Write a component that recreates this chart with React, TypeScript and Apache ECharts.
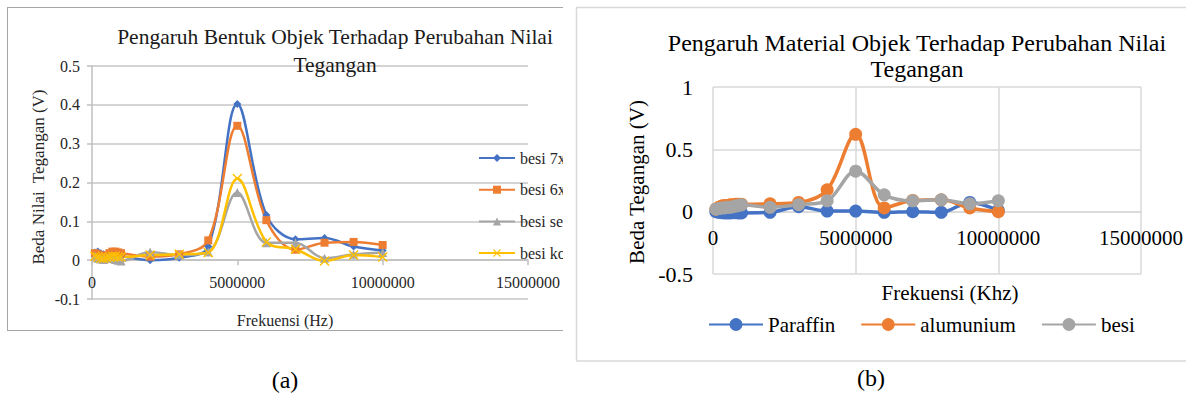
import React, { useEffect, useRef } from "react";
import * as echarts from "echarts";

const FONT = "'Liberation Serif', 'Times New Roman', serif";

// Frequencies (Hz / Khz) shared by both charts
const freq = [
  100000, 200000, 300000, 400000, 500000, 600000, 700000, 800000, 900000, 1000000,
  2000000, 3000000, 4000000, 5000000, 6000000, 7000000, 8000000, 9000000, 10000000,
];

// Chart (a): Pengaruh Bentuk Objek
const shapeNames = ["besi 7x", "besi 6x", "besi se", "besi ko"];
const besi7x = [0.02, 0.022, 0.018, 0.015, 0.012, 0.01, 0.012, 0.015, 0.012, 0.01, 0.0, 0.006, 0.035, 0.402, 0.116, 0.054, 0.057, 0.035, 0.025];
const besi6x = [0.018, 0.015, 0.012, 0.01, 0.012, 0.018, 0.022, 0.022, 0.02, 0.018, 0.009, 0.015, 0.051, 0.346, 0.103, 0.027, 0.045, 0.047, 0.039];
const besiSe = [0.01, 0.005, 0.003, 0.002, 0.004, 0.006, 0.004, 0.002, 0.0, -0.002, 0.021, 0.013, 0.021, 0.174, 0.045, 0.045, 0.005, 0.015, 0.02];
const besiKo = [0.01, 0.008, 0.005, 0.004, 0.006, 0.008, 0.01, 0.01, 0.008, 0.008, 0.013, 0.015, 0.02, 0.21, 0.047, 0.028, -0.002, 0.013, 0.008];

// Chart (b): Pengaruh Material Objek
const materialNames = ["Paraffin", "alumunium", "besi"];
const paraffin = [0.0, -0.005, -0.008, -0.01, -0.01, -0.01, -0.008, -0.008, -0.01, -0.01, -0.005, 0.04, 0.005, 0.005, -0.005, 0.0, -0.005, 0.074, 0.01];
const alumunium = [0.02, 0.035, 0.045, 0.05, 0.05, 0.055, 0.055, 0.06, 0.06, 0.06, 0.063, 0.074, 0.175, 0.62, 0.03, 0.09, 0.095, 0.03, 0.0];
const besi = [0.02, 0.025, 0.03, 0.03, 0.035, 0.035, 0.04, 0.045, 0.05, 0.055, 0.035, 0.056, 0.087, 0.325, 0.135, 0.087, 0.095, 0.063, 0.087];

// Axis ticks
const xTicksA = { min: 0, max: 15000000, interval: 5000000 };
const yTicksA = { min: -0.1, max: 0.5, interval: 0.1 };
const xTicksB = { min: 0, max: 15000000, interval: 5000000 };
const yTicksB = { min: -0.5, max: 1, interval: 0.5 };

const COLORS = ["#4472C4", "#ED7D31", "#A5A5A5", "#FFC000"];
const X_SYMBOL = "path://M1,0L5,4L9,0L10,1L6,5L10,9L9,10L5,6L1,10L0,9L4,5L0,1Z";

const pairs = (ys: number[]) => ys.map((y, i) => [freq[i], y]);
const fmtNum = (v: number) => String(Number(v.toFixed(2)));

function buildA(): any {
  const seriesVals = [besi7x, besi6x, besiSe, besiKo];
  const symbols = ["diamond", "rect", "triangle", X_SYMBOL];
  const sizes = [8, 8, 9, 10];
  return {
    animation: false,
    textStyle: { fontFamily: FONT },
    color: COLORS,
    title: {
      text: "Pengaruh Bentuk Objek Terhadap Perubahan Nilai\nTegangan",
      left: 335,
      top: 23,
      textAlign: "center",
      padding: 0,
      textStyle: { fontFamily: FONT, fontSize: 21.5, fontWeight: "normal", color: "#1a1a1a", lineHeight: 28 },
    },
    legend: {
      orient: "vertical",
      left: 478,
      top: 150,
      itemWidth: 36,
      itemHeight: 10,
      itemGap: 15.7,
      padding: 0,
      data: shapeNames,
      textStyle: { fontFamily: FONT, fontSize: 16, lineHeight: 16, color: "#262626" },
    },
    grid: { left: 92, top: 66, width: 453, height: 233 },
    xAxis: {
      type: "value",
      ...xTicksA,
      axisLine: { show: true, onZero: true, lineStyle: { color: "#bfbfbf", width: 1.5 } },
      axisTick: { show: true, length: 5, lineStyle: { color: "#bfbfbf", width: 1.5 } },
      splitLine: { show: false },
      axisLabel: { formatter: (v: number) => String(v), fontFamily: FONT, fontSize: 16, color: "#262626", margin: -25 },
    },
    yAxis: {
      type: "value",
      ...yTicksA,
      axisLine: { show: true, onZero: false, lineStyle: { color: "#bfbfbf", width: 1.5 } },
      axisTick: { show: true, length: 5, lineStyle: { color: "#bfbfbf", width: 1.5 } },
      splitLine: { show: true, lineStyle: { color: "#c6c6c6", width: 1.5 } },
      axisLabel: { formatter: fmtNum, fontFamily: FONT, fontSize: 16, color: "#262626", margin: 12 },
    },
    graphic: [
      { type: "line", shape: { x1: 7, y1: 7.5, x2: 563, y2: 7.5 }, style: { stroke: "#a6a6a6", lineWidth: 1 } },
      { type: "line", shape: { x1: 7.5, y1: 7, x2: 7.5, y2: 331 }, style: { stroke: "#a6a6a6", lineWidth: 1 } },
      { type: "line", shape: { x1: 7, y1: 330.5, x2: 563, y2: 330.5 }, style: { stroke: "#a6a6a6", lineWidth: 1 } },
      {
        type: "text", x: 285, y: 320,
        style: { text: "Frekuensi (Hz)", fontFamily: FONT, fontSize: 16, fill: "#262626", align: "center", verticalAlign: "middle" },
      },
      {
        type: "text", x: 38, y: 177, rotation: Math.PI / 2,
        style: { text: "Beda Nilai  Tegangan (V)", fontFamily: FONT, fontSize: 17, fill: "#262626", align: "center", verticalAlign: "middle" },
      },
      {
        type: "text", x: 285, y: 380,
        style: { text: "(a)", fontFamily: FONT, fontSize: 24, fill: "#000", align: "center", verticalAlign: "middle" },
      },
    ],
    series: seriesVals.map((vals, i) => ({
      name: shapeNames[i],
      type: "line",
      data: pairs(vals),
      smooth: 0.35,
      symbol: symbols[i],
      symbolSize: sizes[i],
      showAllSymbol: true,
      lineStyle: { width: 2.5, color: COLORS[i] },
      itemStyle: { color: COLORS[i] },
    })),
  };
}

function buildB(): any {
  const seriesVals = [paraffin, alumunium, besi];
  const ox = 563;
  return {
    animation: false,
    textStyle: { fontFamily: FONT },
    color: COLORS,
    title: {
      text: "Pengaruh Material Objek Terhadap Perubahan Nilai\nTegangan",
      left: 917 - ox,
      top: 30,
      textAlign: "center",
      padding: 0,
      textStyle: { fontFamily: FONT, fontSize: 24, fontWeight: "normal", color: "#000", lineHeight: 26 },
    },
    legend: {
      orient: "horizontal",
      left: 708 - ox,
      top: 314,
      itemWidth: 54,
      itemHeight: 16,
      itemGap: 25,
      padding: 0,
      data: materialNames,
      textStyle: { fontFamily: FONT, fontSize: 21, color: "#000" },
    },
    grid: { left: 713 - ox, top: 87, width: 475, height: 187 },
    xAxis: {
      type: "value",
      ...xTicksB,
      axisLine: { show: true, onZero: true, lineStyle: { color: "#d9d9d9", width: 1.5 } },
      axisTick: { show: false },
      splitLine: { show: true, lineStyle: { color: "#d9d9d9", width: 1.5 } },
      axisLabel: { formatter: (v: number) => String(v), fontFamily: FONT, fontSize: 21, color: "#000", margin: -46.5 },
    },
    yAxis: {
      type: "value",
      ...yTicksB,
      axisLine: { show: false },
      axisTick: { show: false },
      splitLine: { show: true, lineStyle: { color: "#d9d9d9", width: 1.5 } },
      axisLabel: { formatter: fmtNum, fontFamily: FONT, fontSize: 22, color: "#000", margin: 20 },
    },
    graphic: [
      { type: "line", shape: { x1: 576 - ox, y1: 7.5, x2: 623, y2: 7.5 }, style: { stroke: "#d9d9d9", lineWidth: 1.5 } },
      { type: "line", shape: { x1: 576.5 - ox, y1: 7, x2: 576.5 - ox, y2: 361 }, style: { stroke: "#d9d9d9", lineWidth: 1.5 } },
      { type: "line", shape: { x1: 576 - ox, y1: 361, x2: 623, y2: 361 }, style: { stroke: "#d9d9d9", lineWidth: 1.5 } },
      {
        type: "text", x: 950 - ox, y: 293,
        style: { text: "Frekuensi (Khz)", fontFamily: FONT, fontSize: 21, fill: "#000", align: "center", verticalAlign: "middle" },
      },
      {
        type: "text", x: 637 - ox, y: 182, rotation: Math.PI / 2,
        style: { text: "Beda Tegangan (V)", fontFamily: FONT, fontSize: 21, fill: "#000", align: "center", verticalAlign: "middle" },
      },
      {
        type: "text", x: 871 - ox, y: 378,
        style: { text: "(b)", fontFamily: FONT, fontSize: 24, fill: "#000", align: "center", verticalAlign: "middle" },
      },
    ],
    series: seriesVals.map((vals, i) => ({
      name: materialNames[i],
      type: "line",
      data: pairs(vals),
      smooth: 0.35,
      symbol: "circle",
      symbolSize: 13,
      showAllSymbol: true,
      lineStyle: { width: 3.5, color: COLORS[i] },
      itemStyle: { color: COLORS[i] },
    })),
  };
}

export default function App() {
  const refA = useRef<HTMLDivElement>(null);
  const refB = useRef<HTMLDivElement>(null);
  useEffect(() => {
    const a = echarts.init(refA.current!, undefined, { renderer: "svg" });
    const b = echarts.init(refB.current!, undefined, { renderer: "svg" });
    a.setOption(buildA());
    b.setOption(buildB());
    return () => {
      a.dispose();
      b.dispose();
    };
  }, []);
  return (
    <div style={{ position: "fixed", left: 0, top: 0, width: 1186, height: 397, overflow: "hidden", background: "#fff" }}>
      <div ref={refA} style={{ position: "absolute", left: 0, top: 0, width: 563, height: 397 }} />
      <div ref={refB} style={{ position: "absolute", left: 563, top: 0, width: 623, height: 397 }} />
    </div>
  );
}
